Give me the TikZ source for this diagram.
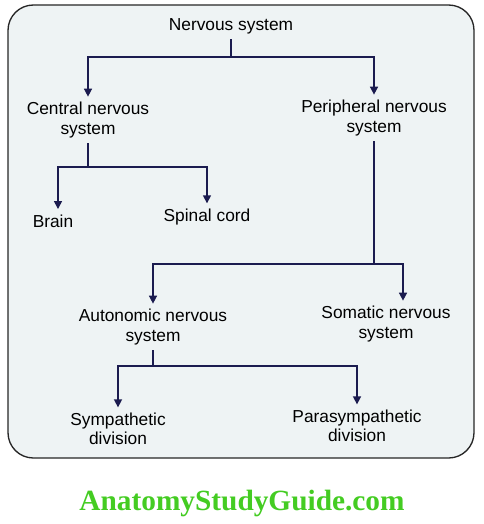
\documentclass[tikz,border=0pt]{standalone}
\usepackage{fontspec}
\setmainfont{Liberation Sans}
\newfontfamily\wmfont{Liberation Serif}
\usetikzlibrary{arrows.meta}
\definecolor{navy}{HTML}{1B1B4F}
\definecolor{panel}{HTML}{EEF3F4}
\definecolor{wmgreen}{HTML}{44CC22}
\tikzset{
  label/.style={align=center, inner sep=4pt, font=\fontsize{13}{14.5}\selectfont},
  link/.style={draw=navy, line width=1.1pt},
  arr/.style={link, -{Triangle[length=6pt,width=6pt]}}
}
\begin{document}
\begin{tikzpicture}[x=0.75pt, y=-0.75pt]
  \useasboundingbox (0,0) rectangle (483,524);
  % frame
  \draw[fill=panel, draw=black!85, line width=1pt, rounded corners=19pt] (8,5) rectangle (474,458);
  % labels
  \node[label] (ns)    at (231,26)  {Nervous system};
  \node[label] (cns)   at (88,120)  {Central nervous\\system};
  \node[label] (pns)   at (374,118) {Peripheral nervous\\system};
  \node[label] (brain) at (53,221)  {Brain};
  \node[label] (spc)   at (207,217) {Spinal cord};
  \node[label] (ans)   at (153,327) {Autonomic nervous\\system};
  \node[label] (sns)   at (386,324) {Somatic nervous\\system};
  \node[label] (sym)   at (118,429) {Sympathetic\\division};
  \node[label] (psy)   at (357,426) {Parasympathetic\\division};
  % joints
  \coordinate (j1) at (231,57);
  \coordinate (j2) at (88,167);
  \coordinate (j3) at (374,264);
  \coordinate (j4) at (153,366);
  % connectors
  \draw[link] (ns) -- (j1);
  \draw[arr] (j1) -| (cns);
  \draw[arr] (j1) -| (pns);
  \draw[link] (cns) -- (j2);
  \draw[arr] (j2) -| ([xshift=3.75pt]brain.north);
  \draw[arr] (j2) -| (spc);
  \draw[link] (pns) -- (j3);
  \draw[arr] (j3) -| (ans);
  \draw[arr] (j3) -| ([xshift=12.75pt]sns.north);
  \draw[link] (ans) -- (j4);
  \draw[arr] (j4) -| (sym);
  \draw[arr] (j4) -| (psy);
  % watermark
  \node[text=wmgreen, font=\wmfont\bfseries\fontsize{22}{24}\selectfont] (wm) at (242,503) {AnatomyStudyGuide.com};
\end{tikzpicture}
\end{document}
